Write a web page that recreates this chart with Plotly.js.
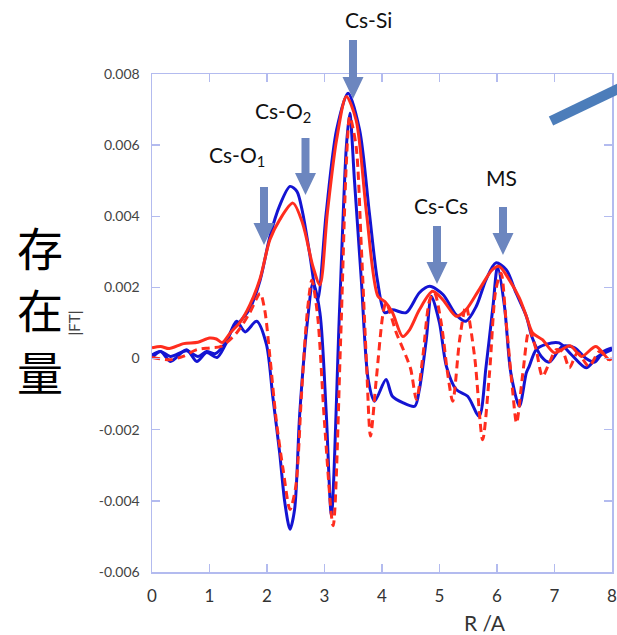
<!DOCTYPE html>
<html>
<head>
<meta charset="utf-8">
<script src="https://cdn.plot.ly/plotly-3.0.1.min.js"></script>
<style>html,body{margin:0;padding:0;background:#fff;}#chart{width:617px;height:635px;}</style>
</head>
<body>
<div id="chart"></div>
<script>
// ---- Data (R in Angstrom, |FT| values) ----
const blueMagR = [0.00,0.15,0.32,0.60,0.80,0.95,1.10,1.25,1.41,1.55,1.70,1.88,2.05,2.22,2.40,2.52,2.62,2.74,2.88,3.03,3.21,3.41,3.61,3.78,3.92,4.05,4.18,4.42,4.65,4.83,5.06,5.29,5.46,5.64,5.81,5.98,6.16,6.33,6.51,6.61,6.77,6.91,7.14,7.35,7.55,7.70,7.85,8.00];
const blueMag  = [1.0e-4,2.0e-4,0.6e-4,2.2e-4,0.6e-4,2.0e-4,1.4e-4,3.8e-4,8.5e-4,1.08e-3,1.40e-3,2.20e-3,3.43e-3,4.30e-3,4.84e-3,4.70e-3,4.10e-3,2.97e-3,1.65e-3,4.10e-3,6.43e-3,7.46e-3,6.43e-3,4.10e-3,2.20e-3,1.29e-3,1.37e-3,1.29e-3,1.85e-3,2.03e-3,1.80e-3,1.23e-3,1.05e-3,1.47e-3,2.22e-3,2.69e-3,2.50e-3,1.85e-3,1.19e-3,6.0e-4,0.6e-4,-1.0e-4,3.5e-4,3.0e-4,0.0,-1.0e-4,2.0e-4,3.0e-4];

const blueImR = [0.00,0.15,0.32,0.60,0.78,0.95,1.13,1.28,1.47,1.62,1.82,1.99,2.10,2.22,2.31,2.40,2.48,2.57,2.70,2.80,2.92,3.03,3.12,3.26,3.38,3.44,3.52,3.64,3.76,3.87,4.07,4.18,4.36,4.57,4.65,4.77,4.86,5.00,5.12,5.29,5.49,5.69,5.81,5.93,6.01,6.13,6.24,6.39,6.51,6.56,6.68,6.85,7.08,7.30,7.55,7.75,8.00];
const blueIm  = [0.3e-4,2.0e-4,-0.8e-4,2.5e-4,-0.8e-4,1.7e-4,0.3e-4,4.0e-4,1.05e-3,7.5e-4,1.05e-3,4.0e-4,-1.06e-3,-2.65e-3,-4.05e-3,-4.80e-3,-4.24e-3,-1.53e-3,1.0e-3,2.13e-3,1.29e-3,-1.53e-3,-4.40e-3,1.29e-3,5.96e-3,6.90e-3,5.03e-3,2.22e-3,-5.9e-4,-1.20e-3,-5.9e-4,-1.06e-3,-1.24e-3,-1.34e-3,-8.7e-4,5.3e-4,1.75e-3,1.00e-3,-2.2e-4,-8.7e-4,-1.06e-3,-1.62e-3,-2.2e-4,1.47e-3,2.59e-3,1.47e-3,-4.0e-4,-1.34e-3,-4.0e-4,-2.2e-4,2.5e-4,4.0e-4,4.4e-4,1.0e-4,-2.6e-4,0.5e-4,2.5e-4];

const redMagR = [0.00,0.15,0.30,0.55,0.80,1.00,1.12,1.22,1.36,1.53,1.70,1.88,2.05,2.22,2.45,2.62,2.80,2.92,3.05,3.21,3.38,3.55,3.73,3.93,4.05,4.18,4.36,4.48,4.65,4.88,5.06,5.29,5.46,5.69,5.92,6.04,6.21,6.39,6.51,6.62,6.79,7.00,7.27,7.47,7.72,7.95,8.00];
const redMag  = [3.0e-4,3.4e-4,2.8e-4,4.2e-4,4.6e-4,5.8e-4,5.5e-4,4.5e-4,7.2e-4,1.02e-3,1.50e-3,2.25e-3,3.34e-3,3.90e-3,4.37e-3,3.80e-3,2.58e-3,2.07e-3,4.10e-3,6.15e-3,7.37e-3,6.70e-3,4.10e-3,1.75e-3,1.60e-3,1.30e-3,6.2e-4,8.1e-4,1.37e-3,1.89e-3,1.65e-3,1.19e-3,1.37e-3,1.94e-3,2.50e-3,2.59e-3,2.22e-3,1.70e-3,1.19e-3,7.2e-4,5.3e-4,1.6e-4,3.6e-4,0.6e-4,3.4e-4,-0.3e-4,0.0];

const redImR = [0.00,0.32,0.54,0.78,1.00,1.20,1.47,1.70,1.88,1.96,2.05,2.16,2.28,2.40,2.50,2.60,2.70,2.78,2.88,3.00,3.15,3.28,3.38,3.44,3.55,3.64,3.73,3.80,3.90,4.02,4.07,4.25,4.42,4.50,4.60,4.71,4.83,4.91,5.03,5.14,5.23,5.35,5.46,5.61,5.75,5.87,5.98,6.07,6.16,6.27,6.34,6.45,6.56,6.68,6.79,6.91,7.03,7.14,7.26,7.40,7.60,7.78,7.95];
const redIm  = [0.3e-4,-0.3e-4,0.6e-4,2.5e-4,3.0e-4,3.4e-4,7.2e-4,1.29e-3,1.83e-3,1.37e-3,0.6e-4,-1.72e-3,-3.12e-3,-4.24e-3,-3.60e-3,-1.00e-3,1.30e-3,2.20e-3,1.20e-3,-1.80e-3,-4.70e-3,5.0e-4,5.50e-3,6.80e-3,5.96e-3,3.15e-3,-1.2e-4,-2.18e-3,-5.9e-4,1.29e-3,1.57e-3,7.2e-4,0.6e-4,-3.0e-4,-1.15e-3,0.6e-4,1.65e-3,1.85e-3,1.00e-3,-4.0e-4,-1.20e-3,5.3e-4,1.47e-3,0.6e-4,-2.28e-3,-4.0e-4,1.94e-3,2.40e-3,1.00e-3,-8.7e-4,-1.81e-3,-4.0e-4,8.1e-4,2.5e-4,-5.0e-4,-1.2e-4,2.5e-4,2.0e-4,-2.6e-4,1.6e-4,-2.2e-4,2.0e-4,-0.5e-4];

const xTicks = [0,1,2,3,4,5,6,7,8];
const yTicks = [0.008,0.006,0.004,0.002,0,-0.002,-0.004,-0.006];
const yTickText = ['0.008','0.006','0.004','0.002','0','-0.002','-0.004','-0.006'];

const peakLabels = ['Cs-O<sub>1</sub>','Cs-O<sub>2</sub>','Cs-Si','Cs-Cs','MS'];
const sideChars = ['存','在','量'];

// ---- Layout helpers (pixel -> paper) ----
const W = 617, H = 635, ML = 152, MR = 5, MT = 74, MB = 63;
const PW = W - ML - MR, PH = H - MT - MB;
const px = v => (v - ML) / PW;
const py = v => (H - MB - v) / PH;

function arrowPath(cx, yTop, yTip) {
  const sw = 4, hw = 10.5, hl = 22;
  const pts = [[cx-sw,yTop],[cx+sw,yTop],[cx+sw,yTip-hl],[cx+hw,yTip-hl],[cx,yTip],[cx-hw,yTip-hl],[cx-sw,yTip-hl]];
  return 'M' + pts.map(p => px(p[0]).toFixed(5) + ',' + py(p[1]).toFixed(5)).join('L') + 'Z';
}

const BLUE = '#1414d2', RED = '#ff2d1e', FRAME = '#b3bbef', ARROW = '#6c86bf';
const FONT = 'Lato, "Liberation Sans", sans-serif';

const traces = [
  {x: blueImR, y: blueIm, type: 'scatter', mode: 'lines', line: {color: BLUE, width: 3, shape: 'spline', smoothing: 0.8}, hoverinfo: 'skip'},
  {x: blueMagR, y: blueMag, type: 'scatter', mode: 'lines', line: {color: BLUE, width: 3, shape: 'spline', smoothing: 0.8}, hoverinfo: 'skip'},
  {x: redMagR, y: redMag, type: 'scatter', mode: 'lines', line: {color: RED, width: 3, shape: 'spline', smoothing: 0.8}, hoverinfo: 'skip'},
  {x: redImR, y: redIm, type: 'scatter', mode: 'lines', line: {color: RED, width: 3, shape: 'spline', smoothing: 0.8, dash: '8px,5px'}, hoverinfo: 'skip'}
];

const arrowSpecs = [[264,187,245],[305.5,138,195],[353,40,99],[437,226,284],[503,207,255]];
const labelPos = [[237,156],[283,112],[368,20],[441,206],[501,177]];
const sidePos = [[40,246],[40,308],[40,370]];

const shapes = arrowSpecs.map(a => ({type: 'path', xref: 'paper', yref: 'paper', path: arrowPath(a[0],a[1],a[2]), fillcolor: ARROW, line: {width: 0}, layer: 'above'}));
shapes.push({type: 'line', xref: 'paper', yref: 'paper', x0: px(551), y0: py(121), x1: px(624), y1: py(86), line: {color: '#4c7dba', width: 10}});

const annotations = peakLabels.map((t, i) => ({text: t, xref: 'paper', yref: 'paper', x: px(labelPos[i][0]), y: py(labelPos[i][1]), xanchor: 'center', yanchor: 'middle', showarrow: false, font: {family: FONT, size: 21, color: '#111'}}));
sideChars.forEach((c, i) => annotations.push({text: c, xref: 'paper', yref: 'paper', x: px(sidePos[i][0]), y: py(sidePos[i][1]), xanchor: 'center', yanchor: 'middle', showarrow: false, font: {family: '"Noto Sans CJK JP", sans-serif', size: 46, color: '#000'}}));
annotations.push({text: 'R /A', xref: 'paper', yref: 'paper', x: px(485), y: py(622), xanchor: 'center', yanchor: 'middle', showarrow: false, font: {family: FONT, size: 21, color: '#333'}});

const layout = {
  width: W, height: H,
  margin: {l: ML, r: MR, t: MT, b: MB},
  paper_bgcolor: '#fff', plot_bgcolor: '#fff',
  showlegend: false,
  font: {family: FONT, color: '#444'},
  xaxis: {range: [0, 8], tickvals: xTicks, ticks: 'inside', ticklen: 8, tickwidth: 1.5, tickcolor: FRAME,
          showline: true, linecolor: FRAME, linewidth: 1.5, mirror: 'ticks', showgrid: false, zeroline: false,
          tickfont: {family: FONT, size: 17, color: '#333'}, ticklabelstandoff: 8, ticklabeloverflow: 'allow'},
  yaxis: {range: [-0.006, 0.008], tickvals: yTicks, ticktext: yTickText, ticks: 'inside', ticklen: 8, tickwidth: 1.5, tickcolor: FRAME,
          showline: true, linecolor: FRAME, linewidth: 1.5, mirror: 'ticks', showgrid: false, zeroline: false,
          tickfont: {family: FONT, size: 14, color: '#444'}, ticklabelstandoff: 8,
          title: {text: '|FT|', font: {family: FONT, size: 15, color: '#444'}, standoff: 14}},
  shapes: shapes,
  annotations: annotations
};

Plotly.newPlot('chart', traces, layout, {displayModeBar: false, staticPlot: true});
</script>
</body>
</html>
